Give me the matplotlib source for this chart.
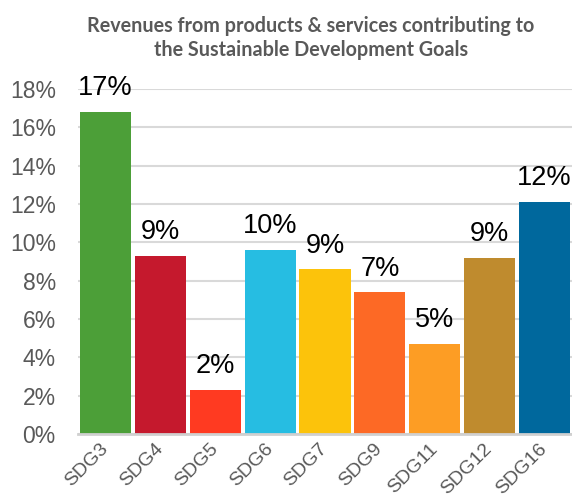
import matplotlib
matplotlib.use("Agg")
import matplotlib.pyplot as plt
from matplotlib.ticker import FuncFormatter

categories = ["SDG3", "SDG4", "SDG5", "SDG6", "SDG7", "SDG9", "SDG11", "SDG12", "SDG16"]
values = [16.8, 9.3, 2.3, 9.6, 8.6, 7.4, 4.7, 9.2, 12.1]
labels = ["17%", "9%", "2%", "10%", "9%", "7%", "5%", "9%", "12%"]
colors = ["#4C9F38", "#C5192D", "#FF3A21", "#26BDE2", "#FCC30B",
          "#FD6925", "#FD9D24", "#BF8B2E", "#00689D"]
yticks = [0, 2, 4, 6, 8, 10, 12, 14, 16, 18]

W, H = 572, 494
fig = plt.figure(figsize=(W / 100, H / 100), dpi=100)
ax = fig.add_axes([78 / W, 60 / H, 494 / W, 345 / H])

x = list(range(len(categories)))
bars = ax.bar(x, values, width=0.93, color=colors, zorder=3)
for xi, v, lab in zip(x, values, labels):
    ax.annotate(lab, (xi, v), xytext=(0, 12), textcoords="offset points",
                ha="center", va="baseline", fontsize=19.5,
                family="Liberation Sans", color="black")

ax.set_xlim(-0.5, len(categories) - 0.5)
ax.set_ylim(0, 18)
ax.set_yticks(yticks)
ax.yaxis.set_major_formatter(FuncFormatter(lambda v, p: f"{int(v)}%"))
ax.grid(axis="y", color="#d9d9d9", linewidth=1.5, zorder=0)
for s in ["top", "right", "left"]:
    ax.spines[s].set_visible(False)
ax.spines["bottom"].set_color("#d0d0d0")
ax.spines["bottom"].set_linewidth(2)
ax.spines["bottom"].set_zorder(4)
ax.tick_params(axis="both", length=0)
ax.tick_params(axis="y", labelsize=16.5, labelcolor="#595959", pad=16)
ax.set_xticks(x)
ax.set_xticklabels(categories, rotation=45, ha="right", va="center",
                   rotation_mode="anchor", fontsize=14, color="#595959",
                   family="Liberation Sans")
ax.tick_params(axis="x", pad=9)
for t in ax.get_yticklabels():
    t.set_family("Liberation Sans")

fig.text(311 / W, 1 - 32 / H, "Revenues from products & services contributing to",
         ha="center", va="baseline", fontsize=14.2, fontweight="bold",
         color="#595959", family="Lato")
fig.text(311 / W, 1 - 56 / H, "the Sustainable Development Goals",
         ha="center", va="baseline", fontsize=14.2, fontweight="bold",
         color="#595959", family="Lato")

fig.savefig("out.png", dpi=100)
